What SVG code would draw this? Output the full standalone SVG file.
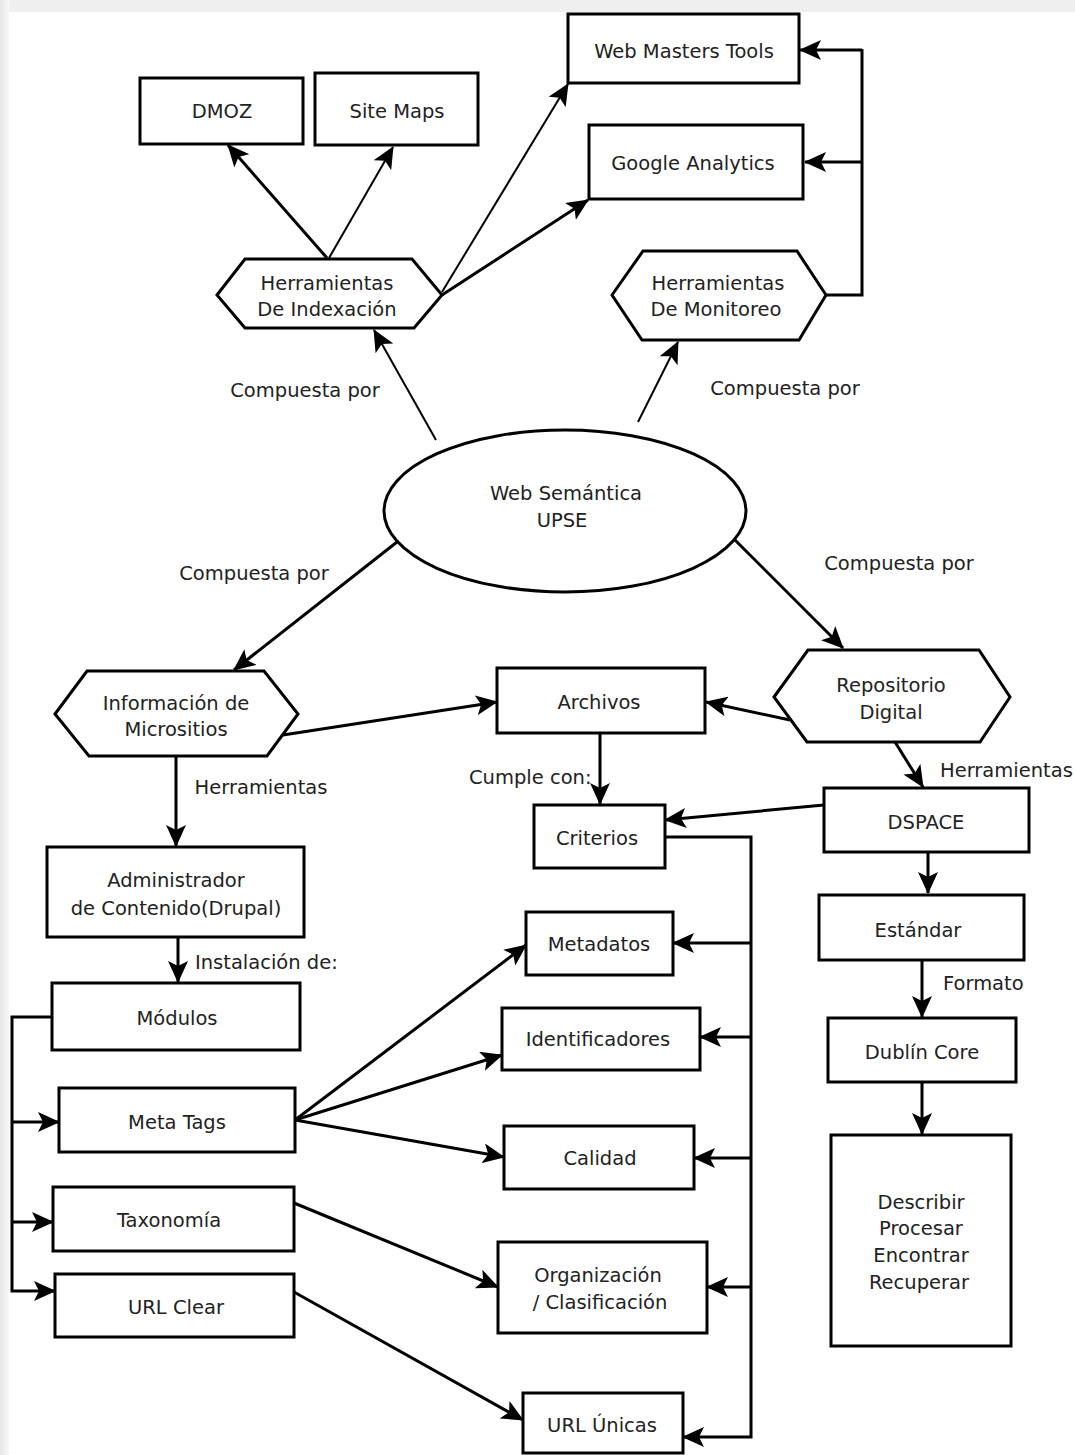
<svg xmlns="http://www.w3.org/2000/svg" width="1075" height="1455" viewBox="0 0 1075 1455">
<defs>
<marker id="ah" viewBox="0 0 22 20" refX="21" refY="10" markerWidth="22" markerHeight="20" markerUnits="userSpaceOnUse" orient="auto">
<path d="M0,0 L22,10 L0,20 L5,10 Z" fill="#000"/>
</marker>
<linearGradient id="lg" x1="0" y1="0" x2="1" y2="0">
<stop offset="0" stop-color="#e6e6e6"/>
<stop offset="1" stop-color="#f8f8f8"/>
</linearGradient>
</defs>
<style>
.n{fill:#fff;stroke:#000;stroke-width:3}
.t{font-family:"DejaVu Sans","Verdana",sans-serif;font-size:19.5px;fill:#222;text-anchor:middle;dominant-baseline:central}
.l{font-family:"DejaVu Sans","Verdana",sans-serif;font-size:19.5px;fill:#222;dominant-baseline:central}
.c{fill:none;stroke:#000;stroke-width:3;marker-end:url(#ah)}
.c2{fill:none;stroke:#000;stroke-width:2;marker-end:url(#ah)}
.p{fill:none;stroke:#000;stroke-width:3}
</style>
<rect x="0" y="0" width="1075" height="1455" fill="#fff"/>
<rect x="0" y="0" width="1075" height="12" fill="#efefef"/>
<rect x="0" y="0" width="9" height="1455" fill="url(#lg)"/>

<g id="connectors">
<line class="c" x1="327" y1="258" x2="228" y2="145"/>
<line class="c2" x1="329" y1="258" x2="393" y2="147"/>
<line class="c2" x1="442" y1="292" x2="568" y2="84"/>
<line class="c" x1="442" y1="295" x2="588" y2="200"/>
<polyline class="p" points="826,295 862,295 862,49"/>
<polyline class="c" points="862,50 800,50"/>
<line class="c" x1="862" y1="162" x2="805" y2="162"/>
<line class="c2" x1="436" y1="440" x2="374" y2="330"/>
<line class="c2" x1="638" y1="422" x2="678" y2="342"/>
<line class="c" x1="397" y1="542" x2="234" y2="670"/>
<line class="c" x1="735" y1="540" x2="843" y2="648"/>
<line class="c" x1="283" y1="735" x2="497" y2="702"/>
<line class="c" x1="790" y1="720" x2="706" y2="702"/>
<line class="c" x1="600" y1="733" x2="600" y2="804"/>
<line class="c" x1="895" y1="742" x2="923" y2="787"/>
<line class="c" x1="824" y1="805" x2="665" y2="820"/>
<line class="c" x1="176" y1="756" x2="176" y2="846"/>
<line class="c" x1="178" y1="937" x2="178" y2="982"/>
<line class="c" x1="928" y1="852" x2="928" y2="893"/>
<line class="c" x1="922" y1="960" x2="922" y2="1017"/>
<line class="c" x1="922" y1="1082" x2="922" y2="1134"/>
<polyline class="c" points="52,1017 12,1017 12,1291 55,1291"/>
<line class="c" x1="12" y1="1122" x2="59" y2="1122"/>
<line class="c" x1="12" y1="1222" x2="53" y2="1222"/>
<line class="c" x1="295" y1="1120" x2="526" y2="945"/>
<line class="c" x1="295" y1="1120" x2="502" y2="1055"/>
<line class="c" x1="295" y1="1120" x2="504" y2="1157"/>
<line class="c" x1="294" y1="1203" x2="498" y2="1287"/>
<line class="c" x1="294" y1="1292" x2="523" y2="1420"/>
<polyline class="c" points="665,837 751,837 751,1437 683,1437"/>
<line class="c" x1="751" y1="943" x2="673" y2="943"/>
<line class="c" x1="751" y1="1037" x2="700" y2="1037"/>
<line class="c" x1="751" y1="1158" x2="694" y2="1158"/>
<line class="c" x1="751" y1="1287" x2="707" y2="1287"/>
</g>

<g id="labels">
<text class="t" x="305" y="390">Compuesta por</text>
<text class="t" x="785" y="388">Compuesta por</text>
<text class="t" x="254" y="573">Compuesta por</text>
<text class="t" x="899" y="563">Compuesta por</text>
<text class="t" x="261" y="787">Herramientas</text>
<text class="l" x="940" y="770">Herramientas</text>
<text class="l" x="469" y="777">Cumple con:</text>
<text class="l" x="195" y="962">Instalación de:</text>
<text class="l" x="943" y="983">Formato</text>
</g>

<g id="n-dmoz"><rect class="n" x="140" y="78" width="163" height="66"/><text class="t" x="222" y="111">DMOZ</text></g>
<g id="n-sitemaps"><rect class="n" x="315" y="73" width="163" height="72"/><text class="t" x="397" y="111">Site Maps</text></g>
<g id="n-wmt"><rect class="n" x="568" y="14" width="231" height="69"/><text class="t" x="684" y="51">Web Masters Tools</text></g>
<g id="n-ga"><rect class="n" x="589" y="125" width="214" height="74"/><text class="t" x="693" y="163">Google Analytics</text></g>
<g id="n-indexacion"><polygon class="n" points="217,295 245,259 412,259 442,295 414,328 245,328"/><text class="t" x="327" y="283">Herramientas</text><text class="t" x="327" y="309">De Indexación</text></g>
<g id="n-monitoreo"><polygon class="n" points="612,295 643,251 797,251 826,295 799,340 642,340"/><text class="t" x="718" y="283">Herramientas</text><text class="t" x="716" y="309">De Monitoreo</text></g>
<g id="n-web"><ellipse class="n" cx="565" cy="511" rx="181" ry="81"/><text class="t" x="566" y="493">Web Semántica</text><text class="t" x="562" y="520">UPSE</text></g>
<g id="n-info"><polygon class="n" points="55,714 87,671 264,671 298,714 267,756 89,756"/><text class="t" x="176" y="703">Información de</text><text class="t" x="176" y="729">Micrositios</text></g>
<g id="n-repo"><polygon class="n" points="774,697 808,650 979,650 1010,697 980,742 807,742"/><text class="t" x="891" y="685">Repositorio</text><text class="t" x="891" y="712">Digital</text></g>
<g id="n-archivos"><rect class="n" x="497" y="668" width="208" height="65"/><text class="t" x="599" y="702">Archivos</text></g>
<g id="n-criterios"><rect class="n" x="534" y="805" width="131" height="63"/><text class="t" x="597" y="838">Criterios</text></g>
<g id="n-dspace"><rect class="n" x="824" y="788" width="205" height="64"/><text class="t" x="926" y="822">DSPACE</text></g>
<g id="n-admin"><rect class="n" x="47" y="847" width="257" height="90"/><text class="t" x="176" y="880">Administrador</text><text class="t" x="176" y="908">de Contenido(Drupal)</text></g>
<g id="n-estandar"><rect class="n" x="819" y="895" width="205" height="65"/><text class="t" x="918" y="930">Estándar</text></g>
<g id="n-metadatos"><rect class="n" x="526" y="912" width="147" height="63"/><text class="t" x="599" y="944">Metadatos</text></g>
<g id="n-modulos"><rect class="n" x="52" y="983" width="248" height="67"/><text class="t" x="177" y="1018">Módulos</text></g>
<g id="n-dublin"><rect class="n" x="828" y="1018" width="188" height="64"/><text class="t" x="922" y="1052">Dublín Core</text></g>
<g id="n-ident"><rect class="n" x="502" y="1008" width="198" height="62"/><text class="t" x="598" y="1039">Identificadores</text></g>
<g id="n-metatags"><rect class="n" x="59" y="1088" width="236" height="64"/><text class="t" x="177" y="1122">Meta Tags</text></g>
<g id="n-calidad"><rect class="n" x="504" y="1126" width="190" height="63"/><text class="t" x="600" y="1158">Calidad</text></g>
<g id="n-describir"><rect class="n" x="831" y="1135" width="180" height="211"/><text class="t" x="921" y="1202">Describir</text><text class="t" x="921" y="1228">Procesar</text><text class="t" x="921" y="1255">Encontrar</text><text class="t" x="919" y="1282">Recuperar</text></g>
<g id="n-taxonomia"><rect class="n" x="53" y="1187" width="241" height="64"/><text class="t" x="169" y="1220">Taxonomía</text></g>
<g id="n-org"><rect class="n" x="498" y="1242" width="209" height="91"/><text class="t" x="598" y="1275">Organización</text><text class="t" x="600" y="1302">/ Clasificación</text></g>
<g id="n-urlclear"><rect class="n" x="55" y="1274" width="239" height="63"/><text class="t" x="176" y="1307">URL Clear</text></g>
<g id="n-urlunicas"><rect class="n" x="523" y="1393" width="160" height="60"/><text class="t" x="602" y="1425">URL Únicas</text></g>
</svg>
